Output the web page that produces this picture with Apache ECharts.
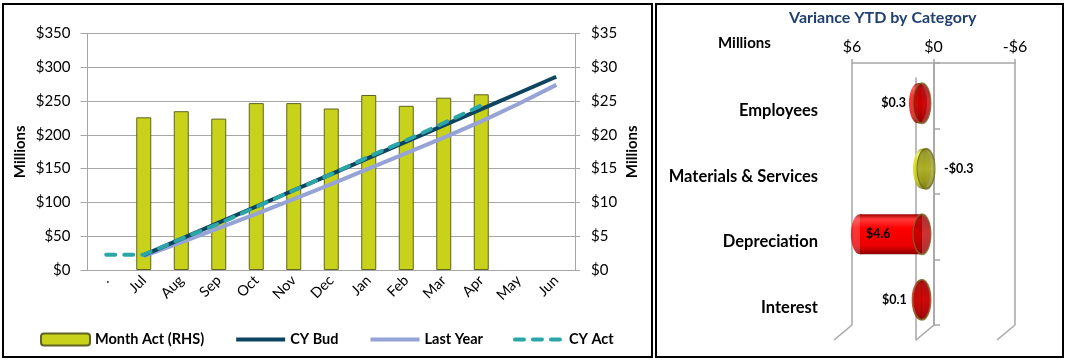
<!DOCTYPE html>
<html>
<head>
<meta charset="utf-8">
<script src="https://cdn.jsdelivr.net/npm/echarts@6/dist/echarts.min.js"></script>
<style>
  html, body { margin: 0; padding: 0; background: #fff; }
  #chart { width: 1066px; height: 361px; }
</style>
</head>
<body>
<div id="chart"></div>
<script>
// Monthly expenditure (left panel)
const categories = ['.', 'Jul', 'Aug', 'Sep', 'Oct', 'Nov', 'Dec', 'Jan', 'Feb', 'Mar', 'Apr', 'May', 'Jun'];
const monthAct = [null, 22.6, 23.5, 22.4, 24.7, 24.7, 23.9, 25.9, 24.3, 25.5, 26.0, null, null];
const cyBud = [null, 22, 46, 70, 94, 118, 142, 166, 190, 214, 238, 262, 286];
const lastYear = [null, 20.5, 41, 62, 83, 105, 127, 150, 173, 196, 220, 246, 274];
const cyAct = [22.6, 22.6, 46.1, 68.5, 93.2, 117.9, 141.8, 167.7, 192.0, 217.5, 243.5, null, null];

// Variance YTD by category (right panel), millions
const varCats = ['Employees', 'Materials & Services', 'Depreciation', 'Interest'];
const varValues = [0.3, -0.3, 4.6, 0.1];

const FONT = 'Lato';
const GRID_GREY = '#a6a6a6';

function money(v) {
  return v < 0 ? '-$' + Math.abs(v) : '$' + v;
}
function grad(stops) {
  return {
    type: 'linear', x: 0, y: 0, x2: 0, y2: 1,
    colorStops: stops.map(s => ({ offset: s[0], color: s[1] }))
  };
}
const redBody = grad([[0, '#9c0000'], [0.12, '#ff3a3a'], [0.35, '#ff0000'], [0.8, '#e80000'], [1, '#8a0000']]);
const greenBody = grad([[0, '#8c9000'], [0.12, '#eef35c'], [0.35, '#d8df00'], [0.8, '#c2c800'], [1, '#7c8000']]);
const redFace = grad([[0, '#8e0000'], [0.5, '#c00000'], [1, '#8e0000']]);
const greenFace = grad([[0, '#7d7d1a'], [0.5, '#a3a32a'], [1, '#7d7d1a']]);

// label placement for each variance value
const varLabelPos = [
  { position: 'left', distance: 12 },
  { position: 'right', distance: 18 },
  { position: 'insideLeft', distance: 6 },
  { position: 'left', distance: 14 }
];

const chart = echarts.init(document.getElementById('chart'));

const hiddenSymbol = { opacity: 0 };

const option = {
  animation: false,
  textStyle: { fontFamily: FONT, color: '#000' },
  title: [
    {
      text: 'Variance YTD by Category', left: 789, top: 10, padding: 0,
      textStyle: { fontFamily: FONT, fontSize: 16, fontWeight: 'bold', color: '#1f3f73' }
    },
    {
      text: 'Millions', left: 718, top: 36, padding: 0,
      textStyle: { fontFamily: FONT, fontSize: 15, fontWeight: 'bold', color: '#000' }
    }
  ],
  legend: {
    data: [
      { name: 'Month Act (RHS)' },
      { name: 'CY Bud', itemStyle: hiddenSymbol },
      { name: 'Last Year', itemStyle: hiddenSymbol },
      { name: 'CY Act', itemStyle: hiddenSymbol }
    ],
    left: 40, top: 332, padding: 0,
    itemWidth: 49, itemHeight: 12, itemGap: 30,
    textStyle: { fontFamily: FONT, fontSize: 14.5, fontWeight: 'bold', color: '#000' },
    lineStyle: { width: 'inherit' }
  },
  grid: [
    { left: 87.5, top: 33.5, width: 487.5, height: 236.5 },
    { left: 852, top: 63, width: 163, height: 262 },
    { left: 841, top: 70.5, width: 162, height: 262 },
    { left: 834, top: 78, width: 163, height: 262 }
  ],
  xAxis: [
    {
      type: 'category', gridIndex: 0, data: categories, boundaryGap: true,
      axisLine: { lineStyle: { color: GRID_GREY, width: 1 } },
      axisTick: { length: 5, lineStyle: { color: GRID_GREY } },
      axisLabel: { rotate: 45, interval: 0, fontSize: 14.5, color: '#000', margin: 8, fontFamily: FONT }
    },
    {
      type: 'value', gridIndex: 1, position: 'top', min: -6, max: 6, interval: 6, inverse: true,
      axisLine: { show: true, lineStyle: { color: GRID_GREY, width: 1.5 } },
      axisTick: { show: true, length: 4, lineStyle: { color: GRID_GREY, width: 1.5 } },
      axisLabel: { formatter: money, fontSize: 16, color: '#000', margin: 8, fontFamily: FONT },
      splitLine: { show: true, lineStyle: { color: GRID_GREY, width: 1.5 } }
    },
    { type: 'value', gridIndex: 2, min: -6, max: 6, inverse: true, show: false },
    { type: 'value', gridIndex: 3, min: -6, max: 6, inverse: true, show: false }
  ],
  yAxis: [
    {
      type: 'value', gridIndex: 0, position: 'left', min: 0, max: 350, interval: 50,
      name: 'Millions', nameLocation: 'middle', nameRotate: 90, nameGap: 60,
      nameTextStyle: { fontFamily: FONT, fontSize: 15, fontWeight: 'bold', color: '#000' },
      axisLine: { show: true, lineStyle: { color: GRID_GREY, width: 1 } },
      axisTick: { show: true, length: 7, lineStyle: { color: GRID_GREY } },
      axisLabel: { formatter: v => '$' + v, fontSize: 15, color: '#000', margin: 17, fontFamily: FONT },
      splitLine: { show: true, lineStyle: { color: GRID_GREY, width: 1 } }
    },
    {
      type: 'value', gridIndex: 0, position: 'right', min: 0, max: 35, interval: 5,
      name: 'Millions', nameLocation: 'middle', nameRotate: 90, nameGap: 50,
      nameTextStyle: { fontFamily: FONT, fontSize: 15, fontWeight: 'bold', color: '#000' },
      axisLine: { show: true, lineStyle: { color: GRID_GREY, width: 1 } },
      axisTick: { show: true, length: 5, lineStyle: { color: GRID_GREY } },
      axisLabel: { formatter: v => '$' + v, fontSize: 15, color: '#000', margin: 16, fontFamily: FONT },
      splitLine: { show: false }
    },
    {
      // back-wall category axis at zero, ticks to the right
      type: 'category', gridIndex: 1, position: 'right', offset: -81, data: varCats, inverse: true,
      axisLine: { show: true, onZero: false, lineStyle: { color: GRID_GREY, width: 1.5 } },
      axisTick: { show: true, length: 6, lineStyle: { color: GRID_GREY, width: 1.5 } },
      axisLabel: { show: false }, splitLine: { show: false }
    },
    {
      type: 'category', gridIndex: 2, data: varCats, inverse: true, show: false,
      axisLine: { onZero: false }
    },
    {
      // category names on the front plane
      type: 'category', gridIndex: 3, position: 'left', data: varCats, inverse: true,
      axisLine: { show: false, onZero: false }, axisTick: { show: false },
      axisLabel: { fontSize: 16.5, fontWeight: 'bold', color: '#000', margin: 16, fontFamily: FONT },
      splitLine: { show: false }
    },
    {
      // front zero line
      type: 'category', gridIndex: 3, position: 'right', offset: -81, data: varCats, inverse: true,
      axisLine: { show: true, onZero: false, lineStyle: { color: GRID_GREY, width: 1.5 } },
      axisTick: { show: false }, axisLabel: { show: false }, splitLine: { show: false }
    }
  ],
  series: [
    {
      name: 'Month Act (RHS)', type: 'bar', xAxisIndex: 0, yAxisIndex: 1,
      data: monthAct, barWidth: 15,
      itemStyle: { color: '#c9d21b', borderColor: '#5f6420', borderWidth: 1 }
    },
    {
      name: 'Last Year', type: 'line', xAxisIndex: 0, yAxisIndex: 0,
      data: lastYear, symbol: 'none', z: 3,
      lineStyle: { color: '#95a3d6', width: 4 }, itemStyle: { color: '#95a3d6' }
    },
    {
      name: 'CY Bud', type: 'line', xAxisIndex: 0, yAxisIndex: 0,
      data: cyBud, symbol: 'none', z: 4,
      lineStyle: { color: '#0d4460', width: 4 }, itemStyle: { color: '#0d4460' }
    },
    {
      name: 'CY Act', type: 'line', xAxisIndex: 0, yAxisIndex: 0,
      data: cyAct, symbol: 'none', z: 5,
      lineStyle: { color: '#2ba5a8', width: 4, type: [9, 9], cap: 'round' },
      itemStyle: { color: '#2ba5a8' }
    },
    {
      // cylinder bodies
      name: 'varBody', type: 'bar', xAxisIndex: 2, yAxisIndex: 3, barWidth: 40, z: 2,
      data: varValues.map(v => ({ value: v, itemStyle: { color: v < 0 ? greenBody : redBody } }))
    },
    {
      // rounded far end of each cylinder
      name: 'varEnd', type: 'scatter', xAxisIndex: 2, yAxisIndex: 3, z: 3,
      symbol: 'circle', symbolSize: [18, 40],
      data: varValues.map((v, i) => ({
        value: [Math.max(v, 0), i],
        itemStyle: { color: v < 0 ? greenBody : redBody }
      }))
    },
    {
      // visible end face of each cylinder
      name: 'varFace', type: 'scatter', xAxisIndex: 2, yAxisIndex: 3, z: 4,
      symbol: 'circle', symbolSize: [18, 40],
      data: varValues.map((v, i) => ({
        value: [Math.min(v, 0), i],
        itemStyle: {
          color: v < 0 ? greenFace : redFace,
          borderColor: v < 0 ? '#6e6e1e' : '#7c6d2a', borderWidth: 1.5
        }
      }))
    },
    {
      // value labels, carried by a transparent overlay of the same bars
      name: 'varLabel', type: 'bar', xAxisIndex: 2, yAxisIndex: 3, z: 10,
      barWidth: 40, barGap: '-100%',
      itemStyle: { color: 'rgba(0,0,0,0)' },
      label: {
        show: true, fontFamily: FONT, fontSize: 12.5, fontWeight: 'bold', color: '#000'
      },
      data: varValues.map((v, i) => ({
        value: v,
        label: {
          position: varLabelPos[i].position,
          distance: varLabelPos[i].distance,
          formatter: (v < 0 ? '-$' : '$') + Math.abs(v).toFixed(1)
        }
      }))
    }
  ],
  graphic: [
    // panel frames
    { type: 'rect', shape: { x: 3, y: 4, width: 649, height: 353 }, style: { fill: 'none', stroke: '#000', lineWidth: 2 }, silent: true },
    { type: 'rect', shape: { x: 656, y: 4, width: 407, height: 353 }, style: { fill: 'none', stroke: '#000', lineWidth: 2 }, silent: true },
    // floor edges of the 3D frame
    { type: 'line', shape: { x1: 852, y1: 325, x2: 834, y2: 340 }, style: { stroke: GRID_GREY, lineWidth: 1.5 }, silent: true },
    { type: 'line', shape: { x1: 934, y1: 325, x2: 916, y2: 340 }, style: { stroke: GRID_GREY, lineWidth: 1.5 }, silent: true },
    { type: 'line', shape: { x1: 1015, y1: 325, x2: 997, y2: 340 }, style: { stroke: GRID_GREY, lineWidth: 1.5 }, silent: true }
  ]
};

chart.setOption(option);
</script>
</body>
</html>
